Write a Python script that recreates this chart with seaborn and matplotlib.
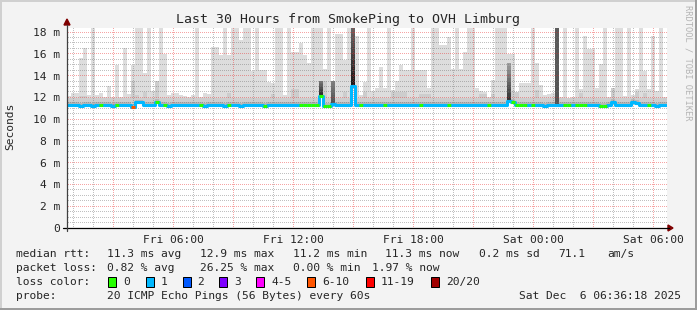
import numpy as np
import pandas as pd
import matplotlib
matplotlib.use("Agg")
import matplotlib.pyplot as plt
import seaborn as sns
from matplotlib.lines import Line2D
from matplotlib.patches import Rectangle, Polygon

# ---------------- data ----------------
title = "Last 30 Hours from SmokePing to OVH Limburg"
start_hour = 0.7          # Fri 00:42
step_hours = 0.2          # 12 minute columns

smoke_top = [
    12.1, 12.4, 12.4, 15.6, 16.5, 12.2, 19.0, 12.2, 12.4, 12.0,
    13.0, 12.0, 15.0, 12.0, 16.5, 12.3, 15.0, 19.0, 19.0, 14.2,
    19.0, 12.6, 13.5, 19.0, 16.0, 12.2, 12.4, 12.4, 12.2, 12.1,
    12.0, 12.2, 19.0, 12.0, 12.4, 12.3, 16.6, 16.6, 15.9, 19.0,
    15.9, 19.0, 19.0, 17.3, 19.0, 19.0, 14.4, 19.0, 14.5, 14.5,
    13.4, 13.3, 19.0, 19.0, 12.2, 19.0, 16.2, 16.2, 17.0, 15.9,
    15.2, 19.0, 19.0, 19.0, 14.6, 19.0, 13.5, 17.8, 17.8, 15.4,
    19.0, 19.0, 17.6, 12.2, 13.4, 19.0, 12.6, 12.9, 14.8, 12.9,
    19.0, 12.7, 13.5, 15.0, 14.5, 14.5, 19.0, 14.5, 14.5, 14.5,
    12.9, 19.0, 19.0, 16.8, 16.8, 17.5, 14.6, 19.0, 14.6, 16.2,
    19.0, 19.0, 12.9, 12.6, 12.5, 12.0, 13.6, 19.0, 19.0, 19.0,
    16.0, 16.0, 12.5, 13.3, 13.3, 13.3, 19.0, 15.2, 13.1, 12.2,
    12.3, 12.4, 19.0, 12.0, 19.0, 11.9, 12.0, 19.0, 12.8, 17.6,
    16.4, 16.4, 12.9, 15.1, 19.0, 12.0, 12.9, 19.0, 19.0, 12.1,
    19.0, 12.2, 12.8, 19.0, 14.4, 12.8, 17.6, 12.6, 19.0, 12.0,
]

smoke_mid = [
    11.9, 11.9, 11.9, 12.1, 12.1, 11.9, 11.9, 11.9, 11.9, 11.9,
    11.9, 11.9, 11.9, 11.9, 11.9, 11.9, 13.5, 12.2, 11.9, 12.5,
    11.9, 11.9, 13.5, 11.9, 11.9, 11.9, 11.9, 11.9, 11.9, 11.9,
    11.9, 11.9, 11.9, 11.9, 11.9, 11.9, 11.9, 11.9, 11.9, 11.9,
    12.4, 11.9, 11.9, 11.9, 11.9, 11.9, 11.9, 11.9, 11.9, 11.9,
    11.9, 12.3, 11.9, 11.9, 11.9, 11.9, 12.8, 12.8, 11.9, 11.9,
    11.9, 11.9, 11.9, 11.9, 13.5, 11.9, 11.9, 11.9, 11.9, 12.5,
    11.9, 11.9, 11.9, 11.9, 12.5, 11.9, 11.9, 11.9, 11.9, 11.9,
    11.9, 12.5, 12.5, 12.5, 12.5, 11.9, 11.9, 11.9, 12.3, 12.3,
    12.3, 11.9, 11.9, 11.9, 11.9, 11.9, 11.9, 11.9, 11.9, 11.9,
    11.9, 11.9, 11.9, 12.3, 12.3, 11.9, 12.3, 11.9, 11.9, 11.9,
    11.9, 12.6, 12.5, 11.9, 11.9, 11.9, 11.9, 12.7, 11.9, 11.9,
    11.9, 11.9, 11.9, 11.9, 11.9, 11.9, 11.9, 11.9, 12.4, 11.9,
    11.9, 11.9, 11.9, 11.9, 11.9, 11.9, 12.9, 11.9, 11.9, 11.9,
    11.9, 11.9, 12.5, 11.9, 12.4, 11.9, 11.9, 11.9, 11.9, 11.9,
]

median_ms = [
    11.3, 11.3, 11.3, 11.2, 11.3, 11.3, 11.2, 11.3, 11.3, 11.3,
    11.3, 11.2, 11.3, 11.3, 11.3, 11.3, 11.1, 11.55, 11.55, 11.3,
    11.3, 11.3, 11.6, 11.3, 11.3, 11.2, 11.3, 11.3, 11.3, 11.3,
    11.3, 11.3, 11.3, 11.3, 11.2, 11.3, 11.3, 11.3, 11.3, 11.2,
    11.3, 11.3, 11.3, 11.2, 11.3, 11.3, 11.3, 11.3, 11.3, 11.2,
    11.3, 11.3, 11.3, 11.3, 11.3, 11.3, 11.3, 11.3, 11.3, 11.3,
    11.3, 11.3, 11.3, 12.1, 11.2, 11.2, 11.35, 11.3, 11.3, 11.3,
    11.3, 13.0, 11.3, 11.3, 11.3, 11.3, 11.3, 11.3, 11.3, 11.3,
    11.3, 11.3, 11.3, 11.3, 11.3, 11.3, 11.3, 11.3, 11.3, 11.3,
    11.3, 11.3, 11.3, 11.3, 11.3, 11.3, 11.3, 11.3, 11.3, 11.3,
    11.3, 11.3, 11.3, 11.3, 11.3, 11.3, 11.3, 11.3, 11.3, 11.3,
    11.7, 11.6, 11.3, 11.3, 11.3, 11.3, 11.3, 11.3, 11.3, 11.2,
    11.3, 11.3, 11.3, 11.3, 11.3, 11.3, 11.3, 11.3, 11.3, 11.3,
    11.3, 11.3, 11.3, 11.2, 11.2, 11.3, 11.6, 11.3, 11.3, 11.3,
    11.3, 11.6, 11.5, 11.3, 11.3, 11.3, 11.3, 11.2, 11.3, 11.3,
]

loss = [
    1, 1, 1, 1, 1, 1, 1, 1, 0, 1,
    1, 1, 0, 1, 1, 1, 8, 1, 1, 1,
    1, 1, 0, 1, 0, 1, 1, 1, 1, 1,
    1, 1, 1, 0, 1, 1, 1, 1, 1, 1,
    0, 1, 1, 1, 1, 1, 1, 1, 1, 0,
    1, 1, 1, 1, 1, 1, 1, 1, 0, 0,
    0, 0, 0, 0, 0, 0, 1, 1, 1, 1,
    1, 1, 1, 0, 1, 1, 1, 1, 1, 0,
    1, 1, 1, 1, 1, 1, 1, 1, 0, 1,
    1, 1, 1, 1, 1, 0, 1, 1, 1, 1,
    1, 1, 1, 1, 1, 0, 1, 1, 1, 1,
    1, 0, 0, 0, 0, 1, 0, 1, 1, 1,
    1, 1, 1, 1, 0, 0, 1, 0, 0, 0,
    1, 1, 1, 0, 0, 1, 1, 1, 1, 1,
    1, 1, 1, 1, 1, 0, 1, 1, 1, 1,
]

dark_idx = [63, 66, 71, 110, 122]
dark_top = [13.5, 13.5, 19.0, 15.2, 19.0]
dark_lo = [0.15, 0.30, 0.10, 0.20, 0.33]   # grey level near the median
dark_hi = [0.45, 0.50, 0.42, 0.62, 0.36]   # grey level at the top

loss_labels = ["0", "1", "2", "3", "4-5", "6-10", "11-19", "20/20"]
loss_upper = [0, 1, 2, 3, 5, 10, 19, 20]
loss_colors = ["#26ff00", "#00b8ff", "#0059ff", "#7e00ff",
               "#ff00fe", "#ff5500", "#ff0000", "#a10000"]

tick_hours = [6, 12, 18, 24, 30]
tick_labels = ["Fri 06:00", "Fri 12:00", "Fri 18:00", "Sat 00:00", "Sat 06:00"]
y_ticks = [0, 2, 4, 6, 8, 10, 12, 14, 16, 18]
y_labels = ["0", "2 m", "4 m", "6 m", "8 m", "10 m", "12 m", "14 m", "16 m", "18 m"]

legend_rtt = ["11.3 ms avg", "12.9 ms max", "11.2 ms min", "11.3 ms now",
              "0.2 ms sd", "71.1", "am/s"]
legend_loss = ["0.82 % avg", "26.25 % max", "0.00 % min", "1.97 % now"]
probe_text = "20 ICMP Echo Pings (56 Bytes) every 60s"
stamp_text = "Sat Dec  6 06:36:18 2025"

# ---------------- style ----------------
sns.set_style("white")
plt.rcParams["font.family"] = ["DejaVu Sans Mono", "DejaVu Sans"]
MONO = "DejaVu Sans Mono"

W, H = 697, 310
def fx(x):
    return x / W
def fy(y):
    return 1 - y / H

AX_W, AX_H = 600, 200
fig = plt.figure(figsize=(W / 100, H / 100), dpi=100, facecolor="#f3f3f3")
ax = fig.add_axes([fx(67), fy(228), AX_W / W, AX_H / H])
ax.set_facecolor("white")

n = len(smoke_top)
x0 = np.array([start_hour + step_hours * i for i in range(n)])
med = np.array(median_ms)
top = np.array(smoke_top)
mid = np.array(smoke_mid)
xlim = (start_hour, start_hour + step_hours * n)
ylim = (0, 18.37)

# smoke layers
ax.bar(x0, top - med, bottom=med, width=step_hours, align="edge",
       color="#dddddd", linewidth=0, antialiased=False, zorder=1)
ax.bar(x0, np.clip(mid - med, 0, None), bottom=med, width=step_hours,
       align="edge", color="#cdcdcd", linewidth=0, antialiased=False, zorder=1.1)
ax.bar(x0, np.clip(mid - med, 0, 0.25), bottom=med, width=step_hours,
       align="edge", color="#b8b8b8", linewidth=0, antialiased=False, zorder=1.2)

# dark smoke columns
nb = 10
for idx, t, lo, hi in zip(dark_idx, dark_top, dark_lo, dark_hi):
    base = med[idx]
    edges = np.linspace(base, t, nb + 1)
    shades = np.linspace(lo, hi, nb)
    for k in range(nb):
        g = shades[k]
        ax.bar(x0[idx], edges[k + 1] - edges[k], bottom=edges[k],
               width=step_hours, align="edge", color=(g, g, g),
               linewidth=0, antialiased=False, zorder=1.3)

# dotted grid rendered pixel-exact as an overlay image (rrdtool style)
grid_img = np.zeros((AX_H, AX_W, 4))
minor_rgba = (0.45, 0.45, 0.45, 0.45)
major_rgba = (0.92, 0.15, 0.15, 0.42)
px_h = AX_W / (xlim[1] - xlim[0])
px_v = AX_H / (ylim[1] - ylim[0])

def grid_v(h, rgba):
    c = int(np.floor((h - xlim[0]) * px_h))
    if 0 <= c < AX_W:
        grid_img[0::2, c] = rgba

def grid_h(v, rgba):
    r = int(np.floor(AX_H - (v - ylim[0]) * px_v))
    if 0 <= r < AX_H:
        grid_img[r, 1::2] = rgba

for h in np.arange(1, 31, 1):
    grid_v(h, major_rgba if h % 3 == 0 else minor_rgba)
for v in np.arange(0.5, 18.5, 0.5):
    grid_h(v, major_rgba if abs(v / 2 - round(v / 2)) < 1e-9 else minor_rgba)
ax.imshow(grid_img, extent=(xlim[0], xlim[1], ylim[0], ylim[1]), origin="upper",
          interpolation="nearest", aspect="auto", zorder=2.5)

# median line (base step line through seaborn, then coloured by loss)
df = pd.DataFrame({"hour": np.append(x0, x0[-1] + step_hours),
                   "median": np.append(med, med[-1])})
sns.lineplot(data=df, x="hour", y="median", drawstyle="steps-post",
             color=loss_colors[1], lw=2.2, ax=ax, zorder=3, legend=False)

def loss_color(v):
    for up, c in zip(loss_upper, loss_colors):
        if v <= up:
            return c
    return loss_colors[-1]

for i in range(n):
    ax.hlines(med[i], x0[i], x0[i] + step_hours, colors=loss_color(loss[i]),
              lw=2.2, zorder=3.2)

# axes / ticks
ax.set_xlim(*xlim)
ax.set_ylim(*ylim)
ax.set_xticks(np.arange(3, 31, 3))
ax.set_xticklabels([tick_labels[tick_hours.index(h)] if h in tick_hours else ""
                    for h in range(3, 31, 3)])
ax.set_xticks(np.arange(1, 31, 1), minor=True)
ax.set_yticks(y_ticks)
ax.set_yticklabels(y_labels)
ax.set_yticks(np.arange(0, 18.5, 0.5), minor=True)
ax.set_xlabel("")
ax.set_ylabel("")
ax.grid(False)
for s in ax.spines.values():
    s.set_visible(False)
ax.tick_params(axis="x", which="major", length=2.2, width=0.72, color="#e08080",
               pad=2.8, labelsize=8.1)
ax.tick_params(axis="x", which="minor", length=1.5, width=0.72, color="#b0b0b0")
ax.tick_params(axis="y", which="major", length=3, width=0.72, color="#404040",
               pad=2.2, labelsize=8.1)
ax.tick_params(axis="y", which="minor", length=0)
for lab in ax.get_xticklabels() + ax.get_yticklabels():
    lab.set_family(MONO)

# axis lines with arrows
fig.add_artist(Line2D([fx(63), fx(669)], [fy(228), fy(228)], color="black", lw=0.9))
fig.add_artist(Line2D([fx(67), fx(67)], [fy(231), fy(25)], color="#404040", lw=0.9))
fig.add_artist(Polygon([(fx(668), fy(225)), (fx(668), fy(231)), (fx(673), fy(228))],
                       closed=True, color="#7f0000", transform=fig.transFigure))
fig.add_artist(Polygon([(fx(64), fy(25)), (fx(70), fy(25)), (fx(67), fy(19))],
                       closed=True, color="#7f0000", transform=fig.transFigure))

# title, y label, side text
fig.text(fx(347.5), fy(19), title, family=MONO, fontsize=9.5, ha="center", va="center")
fig.text(fx(10), fy(126), "Seconds", family=MONO, fontsize=8.1, rotation=90,
         ha="center", va="center")
fig.text(fx(688), fy(5), "RRDTOOL / TOBI OETIKER", family=MONO, fontsize=6.3,
         rotation=270, ha="center", va="top", color="#b4b4b4")

# legend
def ftext(x, y, s, **kw):
    fig.text(fx(x), fy(y), s, family=MONO, fontsize=8.1, va="center", **kw)

ftext(16, 254, "median rtt:")
for s, x in zip(legend_rtt, [107, 200, 293, 385, 479, 558, 607]):
    ftext(x, 254, s)
ftext(16, 268, "packet loss:")
for s, x in zip(legend_loss, [107, 200, 293, 372]):
    ftext(x, 268, s)
ftext(16, 282, "loss color:")
box_x = [108, 146, 183, 219, 256, 307, 366, 431]
lab_x = [123, 161, 197, 234, 271, 322, 381, 446]
for bx, lx, c, lab in zip(box_x, lab_x, loss_colors, loss_labels):
    fig.add_artist(Rectangle((fx(bx), fy(286.5)), 8 / W, 10 / H, facecolor=c,
                             edgecolor="black", lw=0.72, transform=fig.transFigure))
    ftext(lx, 282, lab)
ftext(16, 296, "probe:")
ftext(107, 296, probe_text)
fig.text(fx(681), fy(296), stamp_text, family=MONO, fontsize=8.1, va="center", ha="right")

# frame
fig.add_artist(Rectangle((0, fy(2)), 1, 2 / H, color="#d0d0d0", lw=0, transform=fig.transFigure))
fig.add_artist(Rectangle((0, 0), 2 / W, 1, color="#d0d0d0", lw=0, transform=fig.transFigure))
fig.add_artist(Rectangle((0, 0), 1, 2 / H, color="#9c9c9c", lw=0, transform=fig.transFigure))
fig.add_artist(Rectangle((fx(695), 0), 2 / W, 1, color="#9c9c9c", lw=0, transform=fig.transFigure))

fig.savefig("out.png", dpi=100, facecolor=fig.get_facecolor())
